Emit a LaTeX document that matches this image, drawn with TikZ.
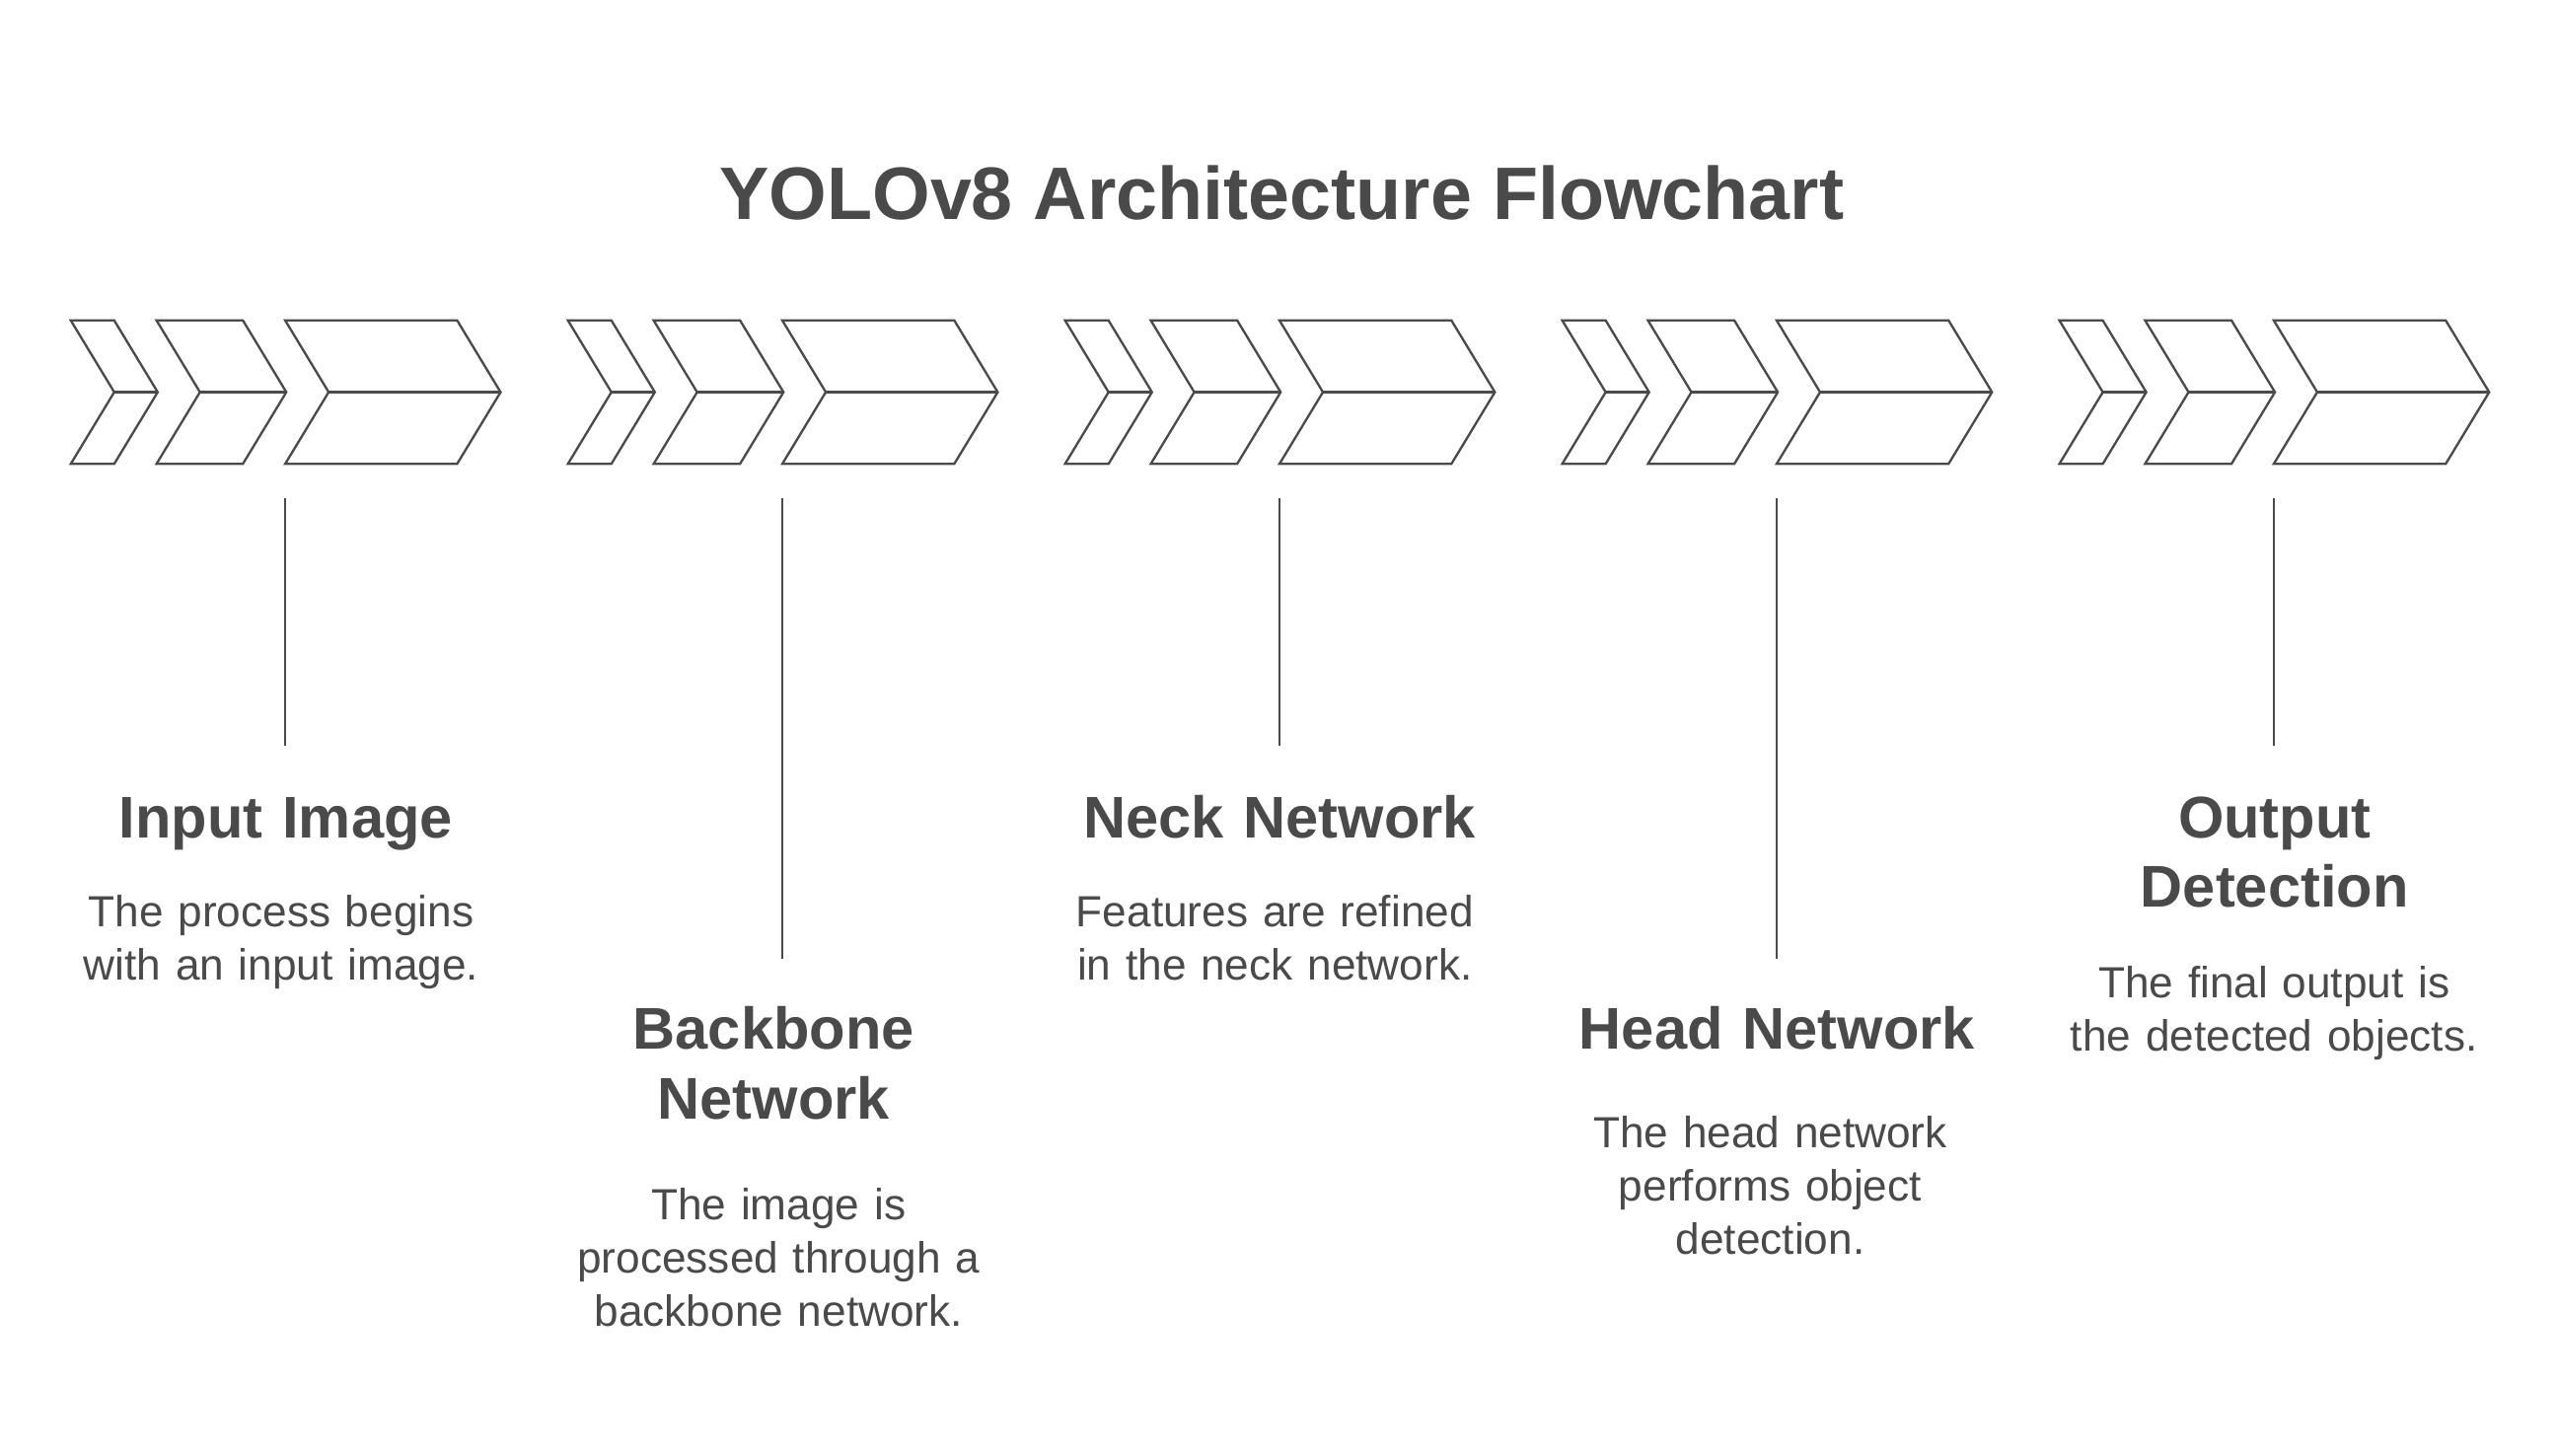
\documentclass[tikz,border=0pt]{standalone}
\usepackage{fontspec}
\setmainfont{Liberation Sans}
\definecolor{ink}{HTML}{4A4A4A}
\begin{document}
\begin{tikzpicture}[x=1pt,y=-1pt,
  chev/.style={draw=ink, line width=1.4pt, line join=miter},
  conn/.style={draw=ink, line width=1.15pt},
  ttl/.style={text=ink, font=\fontsize{45.4}{52}\selectfont\bfseries, inner sep=0pt, anchor=base},
  head/.style={text=ink, font=\fontsize{35.9}{42.5}\selectfont\bfseries, text width=320pt, align=center, inner sep=0pt, anchor=base},
  desc/.style={text=ink, font=\fontsize{26.6}{32.5}\selectfont, text width=320pt, align=center, inner sep=0pt, anchor=base}]
\useasboundingbox[fill=white] (0,0) rectangle (1560,888.33);

\node[ttl] (title) at (782,134) {YOLOv8 Architecture Flowchart};

% chevron groups
\def\ct{195.5}\def\cm{239.25}\def\cb{283}\def\cs{26.5}
\foreach \i in {0,...,4}{
  \pgfmathsetmacro{\g}{43.2+303.3*\i}
  \foreach \o/\w in {0/26.5, 52.3/52.7, 130.8/104.9}{
    \pgfmathsetmacro{\L}{\g+\o}
    \pgfmathsetmacro{\R}{\L+\w}
    \pgfmathsetmacro{\T}{\R+\cs}
    \pgfmathsetmacro{\N}{\L+\cs}
    \draw[chev] (\L,\ct) -- (\R,\ct) -- (\T,\cm) -- (\R,\cb) -- (\L,\cb) -- (\N,\cm) -- cycle;
    \draw[chev] (\N,\cm) -- (\T,\cm);
  }
}

% connectors
\coordinate (c1t) at (174.1,304); \coordinate (c1b) at (174.1,455);
\coordinate (c2t) at (477.0,304); \coordinate (c2b) at (477.0,585);
\coordinate (c3t) at (780.7,304); \coordinate (c3b) at (780.7,455);
\coordinate (c4t) at (1084.0,304); \coordinate (c4b) at (1084.0,585);
\coordinate (c5t) at (1387.4,304); \coordinate (c5b) at (1387.4,455);
\draw[conn] (c1t) -- (c1b);
\draw[conn] (c2t) -- (c2b);
\draw[conn] (c3t) -- (c3b);
\draw[conn] (c4t) -- (c4b);
\draw[conn] (c5t) -- (c5b);

% labels
\node[head] (h1) at (174.4,511) {Input Image};
\node[desc] (d1) at (171.5,565.5) {The process begins\\with an input image.};

\node[head] (h2) at (472,640) {Backbone\\Network};
\node[desc] (d2) at (475,744) {The image is\\processed through a\\backbone network.};

\node[head] (h3) at (780.6,511) {Neck Network};
\node[desc] (d3) at (777.8,565.3) {Features are refined\\in the neck network.};

\node[head] (h4) at (1084.2,640) {Head Network};
\node[desc] (d4) at (1080,700.5) {The head network\\performs object\\detection.};

\node[head] (h5) at (1387.7,511) {Output\\Detection};
\node[desc] (d5) at (1387.4,609) {The final output is\\the detected objects.};
\end{tikzpicture}
\end{document}
